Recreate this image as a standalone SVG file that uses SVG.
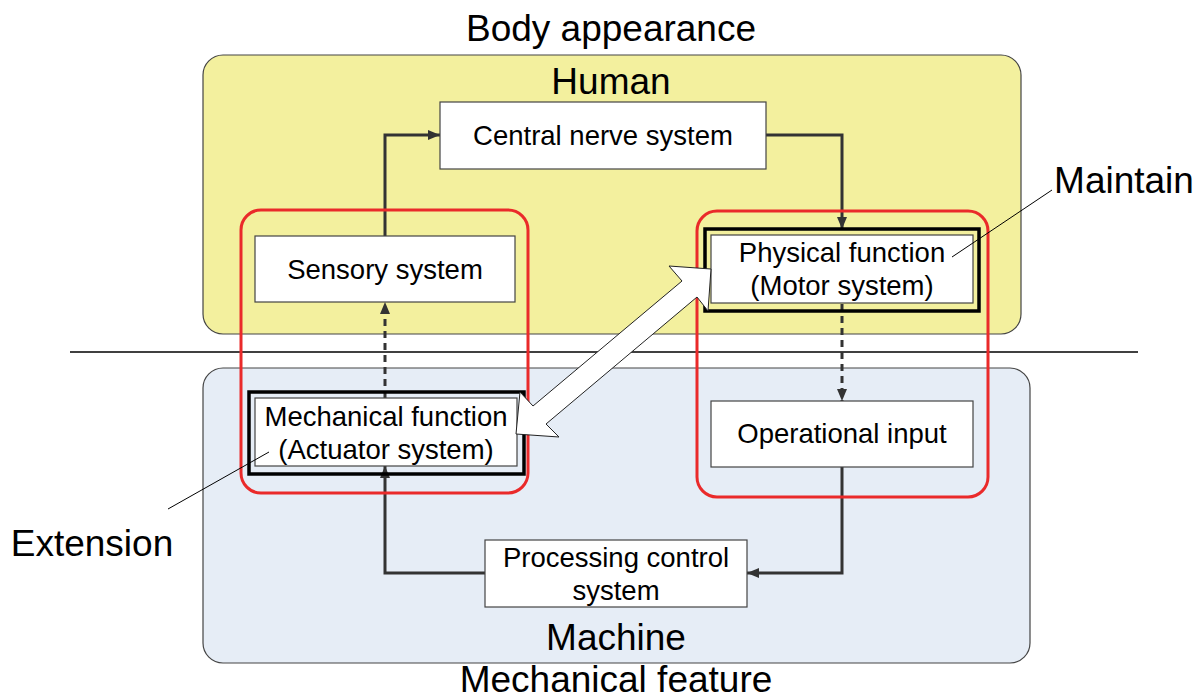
<svg xmlns="http://www.w3.org/2000/svg" width="1202" height="699" viewBox="0 0 1202 699">
<style>
text{font-family:"Liberation Sans",Arial,sans-serif;fill:#000;text-anchor:middle}
.big{font-size:37px}
.node{font-size:27.5px}
.box{fill:#fff;stroke:#444;stroke-width:1.2}
.thick{fill:none;stroke:#000;stroke-width:3.5}
.red{fill:none;stroke:#ea2a2a;stroke-width:3}
.conn{fill:none;stroke:#333;stroke-width:3}
.dash{stroke-dasharray:7 5}
.lead{fill:none;stroke:#000;stroke-width:1}
</style>
<defs>
<marker id="ah" viewBox="0 0 12 10" refX="12" refY="5" markerWidth="12" markerHeight="10" markerUnits="userSpaceOnUse" orient="auto">
<path d="M0,0 L12,5 L0,10 Z" fill="#333"/>
</marker>
</defs>
<rect width="1202" height="699" fill="#fff"/>

<g id="human-area">
<rect x="203" y="55" width="818" height="279" rx="20" fill="#f3f09e" stroke="#444" stroke-width="1.2"/>
<text class="big" x="611" y="94">Human</text>
</g>
<g id="machine-area">
<rect x="203" y="368" width="827" height="295" rx="20" fill="#e6edf6" stroke="#444" stroke-width="1.2"/>
<text class="big" x="616" y="650">Machine</text>
</g>
<text class="big" x="611" y="41">Body appearance</text>
<text class="big" x="616" y="692">Mechanical feature</text>
<line x1="70" y1="352" x2="1138" y2="352" stroke="#000" stroke-width="1.5"/>

<g id="connectors">
<path class="conn" d="M385,236 V135 H440" marker-end="url(#ah)"/>
<path class="conn" d="M766,135 H842 V229" marker-end="url(#ah)"/>
<path class="conn dash" d="M842,304 V401" marker-end="url(#ah)"/>
<path class="conn" d="M842,467 V573 H747" marker-end="url(#ah)"/>
<path class="conn" d="M485,573 H385 V466" marker-end="url(#ah)"/>
<path class="conn dash" d="M385,398 V302" marker-end="url(#ah)"/>
</g>

<g id="central">
<rect class="box" x="440" y="102" width="326" height="67"/>
<text class="node" x="603" y="145">Central nerve system</text>
</g>
<g id="sensory">
<rect class="box" x="255" y="236" width="260" height="66"/>
<text class="node" x="385" y="279">Sensory system</text>
</g>
<g id="physical">
<rect class="thick" x="705" y="229" width="274" height="82"/>
<rect class="box" x="711" y="235" width="262" height="68"/>
<text class="node" x="842" y="262">Physical function</text>
<text class="node" x="842" y="295">(Motor system)</text>
</g>
<g id="mechanical">
<rect class="thick" x="249" y="392" width="275" height="82"/>
<rect class="box" x="255" y="398" width="262" height="68"/>
<text class="node" x="386" y="426">Mechanical function</text>
<text class="node" x="386" y="459">(Actuator system)</text>
</g>
<g id="operational">
<rect class="box" x="711" y="401" width="262" height="66"/>
<text class="node" x="842" y="443">Operational input</text>
</g>
<g id="processing">
<rect class="box" x="485" y="540" width="262" height="67"/>
<text class="node" x="616" y="567">Processing control</text>
<text class="node" x="616" y="600">system</text>
</g>

<g id="groups">
<rect class="red" x="241" y="210" width="287" height="283" rx="20"/>
<rect class="red" x="697" y="211" width="291" height="286" rx="20"/>
</g>

<g id="double-arrow">
<polygon points="711,269 708,311 697,297 546,424 559,437 516,434 520,392 533,406 682,281 669,266" fill="#fff" stroke="#222" stroke-width="1"/>
</g>

<g id="maintain">
<line class="lead" x1="1052" y1="190" x2="952" y2="257"/>
<text class="big" x="1124" y="193">Maintain</text>
</g>
<g id="extension">
<line class="lead" x1="168" y1="509" x2="269" y2="452"/>
<text class="big" x="92" y="556">Extension</text>
</g>
</svg>
